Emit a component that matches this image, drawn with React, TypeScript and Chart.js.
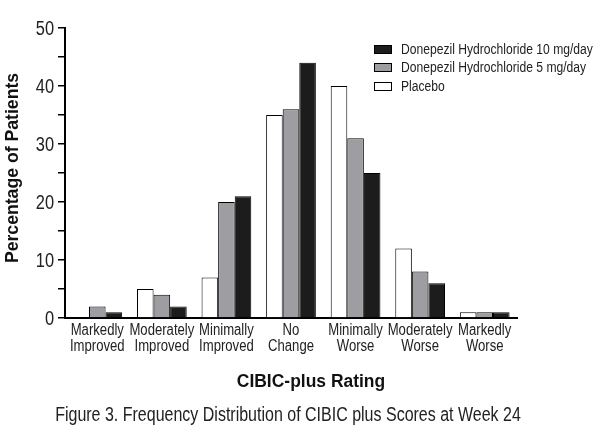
import React, { useEffect, useRef } from "react";
import { Chart, registerables } from "chart.js";

Chart.register(...registerables);

const categories: string[][] = [
  ["Markedly", "Improved"],
  ["Moderately", "Improved"],
  ["Minimally", "Improved"],
  ["No", "Change"],
  ["Minimally", "Worse"],
  ["Moderately", "Worse"],
  ["Markedly", "Worse"],
];
const placebo = [0, 5, 7, 35, 40, 12, 1];
const dose5 = [2, 4, 20, 36, 31, 8, 1];
const dose10 = [1, 2, 21, 44, 25, 6, 1];
const seriesNames = ["Placebo", "Donepezil Hydrochloride 5 mg/day", "Donepezil Hydrochloride 10 mg/day"];
const yTitle = "Percentage of Patients";
const xTitle = "CIBIC-plus Rating";
const caption = "Figure 3. Frequency Distribution of CIBIC plus Scores at Week 24";

const SANS = "'Liberation Sans', Arial, sans-serif";
const TEXT = "#222";
const colors = ["#ffffff", "#9e9ea2", "#1c1c1c"];
const SQ = 0.82;

function narrowText(ctx: any, text: string, x: number, y: number, font: string, align: string, sx: number, color: string, rot = 0) {
  ctx.save();
  ctx.translate(x, y);
  if (rot) ctx.rotate(rot);
  ctx.scale(sx, 1);
  ctx.font = font;
  ctx.fillStyle = color;
  ctx.textAlign = align;
  ctx.textBaseline = "middle";
  ctx.fillText(text, 0, 0);
  ctx.restore();
}

export default function App() {
  const ref = useRef<HTMLCanvasElement | null>(null);
  useEffect(() => {
    document.body.style.margin = "0";
    if (!ref.current) return;
    const overlay = {
      id: "overlay",
      afterDraw(chart: any) {
        const ctx = chart.ctx;
        const xs = chart.scales.x;
        const ys = chart.scales.y;
        // y tick labels
        ys.ticks.forEach((t: any) => {
          if (t.value % 10 !== 0) return;
          const py = ys.getPixelForValue(t.value);
          narrowText(ctx, String(t.value), ys.right - 11, py + 1, `20px ${SANS}`, "right", SQ, TEXT);
        });
        // x tick labels
        categories.forEach((lines, i) => {
          const px = xs.getPixelForValue(i);
          lines.forEach((ln, j) => {
            narrowText(ctx, ln, px, xs.top + 13 + j * 16, `16px ${SANS}`, "center", SQ, TEXT);
          });
        });
        // legend (reverse order)
        const order = [2, 1, 0];
        const rowsY = [50, 68, 87];
        order.forEach((si, i) => {
          const y = rowsY[i];
          ctx.save();
          ctx.fillStyle = colors[si];
          ctx.fillRect(374.5, y - 4.5, 17, 8);
          ctx.strokeStyle = "#000";
          ctx.lineWidth = 1;
          ctx.strokeRect(374.5, y - 4.5, 17, 8);
          ctx.restore();
          narrowText(ctx, seriesNames[si], 401, y + 0.5, `14px ${SANS}`, "left", 0.865, TEXT);
        });
        // axis titles
        narrowText(ctx, yTitle, 13, 168, `bold 18px ${SANS}`, "center", 0.98, "#111", -Math.PI / 2);
        narrowText(ctx, xTitle, 311, 382, `bold 18px ${SANS}`, "center", 0.97, "#111");
        // caption
        narrowText(ctx, caption, 288, 415, `20px ${SANS}`, "center", 0.8, TEXT);
      },
    };
    const chart = new Chart(ref.current, {
      type: "bar",
      data: {
        labels: categories,
        datasets: [
          { label: seriesNames[0], data: placebo, backgroundColor: colors[0], borderColor: "#000", borderWidth: 1 },
          { label: seriesNames[1], data: dose5, backgroundColor: colors[1], borderColor: "#000", borderWidth: 1 },
          { label: seriesNames[2], data: dose10, backgroundColor: colors[2], borderColor: "#000", borderWidth: 1 },
        ],
      },
      options: {
        animation: false,
        responsive: false,
        maintainAspectRatio: false,
        layout: { padding: { top: 28, right: 83, left: 0, bottom: 0 } },
        datasets: { bar: { categoryPercentage: 0.77, barPercentage: 1.0, borderSkipped: "bottom" } } as any,
        plugins: { legend: { display: false }, tooltip: { enabled: false }, title: { display: false } },
        scales: {
          x: {
            grid: { display: false },
            border: { color: "#000", width: 2 },
            ticks: { display: false },
            afterFit: (s: any) => { s.height = 126; },
          },
          y: {
            min: 0,
            max: 50,
            grid: { drawOnChartArea: false, drawTicks: true, tickLength: 7, color: "#000", lineWidth: 1.5 },
            border: { color: "#000", width: 2 },
            ticks: { stepSize: 5, display: false },
            afterFit: (s: any) => { s.width = 65; },
          },
        },
      },
      plugins: [overlay],
    });
    return () => chart.destroy();
  }, []);
  return (
    <div style={{ width: 600, height: 444, background: "#fff" }}>
      <canvas ref={ref} width={600} height={444} style={{ width: 600, height: 444, display: "block" }} />
    </div>
  );
}
